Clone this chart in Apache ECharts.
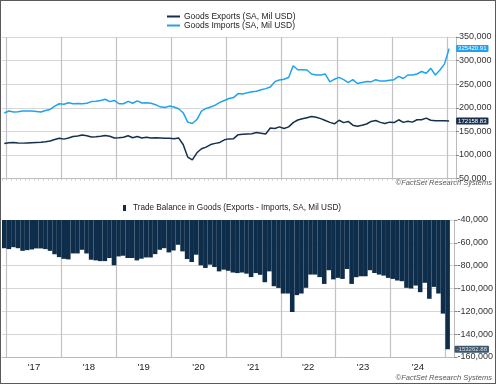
<!DOCTYPE html>
<html>
<head>
<meta charset="utf-8">
<script src="https://cdn.jsdelivr.net/npm/echarts@6/dist/echarts.min.js"></script>
<style>
  html, body { margin: 0; padding: 0; background: #fff; }
  #wrap { position: relative; width: 496px; height: 384px; }
  #chart { position: absolute; left: 0; top: 0; width: 496px; height: 384px; }
  #frame { position: absolute; left: 0; top: 0; width: 496px; height: 384px; box-sizing: border-box; border: 1px solid #5a5a5a; pointer-events: none; }
</style>
</head>
<body>
<div id="wrap"><div id="chart"></div><div id="frame"></div></div>
<script>
// Months: Dec 2016 .. Feb 2025 (last month has no data)
const startYear = 2016, startMonth = 12, monthCount = 99;
const categories = [];
for (let i = 0; i < monthCount; i++) {
  const m0 = startMonth - 1 + i;
  const y = startYear + Math.floor(m0 / 12);
  const m = (m0 % 12) + 1;
  categories.push(y + '-' + (m < 10 ? '0' + m : '' + m));
}

const exportsLabel = 'Goods Exports (SA, Mil USD)';
const importsLabel = 'Goods Imports (SA, Mil USD)';
const balanceLabel = 'Trade Balance in Goods (Exports - Imports, SA, Mil USD)';

// Dec 2016 .. Jan 2025
const goodsExports = [
  124000,
  126000,126500,125500,125000,125500,126000,126500,127000,128000,129500,132500,135500,
  133500,136000,139000,140000,142000,140500,138000,138500,139500,141000,139500,136000,
  136500,137500,140500,136500,139000,136000,137500,136000,136500,136000,135500,135500,
  134500,136000,122000,95500,89500,104500,113000,116500,122000,124500,126500,132000,
  134000,134500,143000,144000,144500,145000,147500,146000,144500,157000,156000,159500,
  156000,159500,168500,174000,176500,179000,181500,180000,177000,173000,169000,166000,
  173500,168500,171000,163000,161000,163000,165500,171000,173000,169000,166500,169500,
  168500,174500,169000,171500,169500,174500,174500,178000,173500,172500,172500,172500,
  172158.83
];
const goodsImports = [
  189000,
  193000,191000,191500,193000,193000,193000,192000,191000,194000,196500,203500,208500,
  207500,210500,208500,209000,208500,209500,213000,214000,215500,218000,213000,215500,
  208500,208500,213500,209500,214500,210000,210500,209500,206500,202000,200500,203500,
  201500,198000,189500,169500,166500,175000,193000,198500,201500,205500,211500,215500,
  219500,221500,230000,229000,232000,234000,235000,238000,240500,244000,255000,259000,
  260500,264000,289000,280500,280500,280000,271500,269500,269500,271500,255000,260500,
  264500,259500,253500,259500,251500,253500,255500,255000,259500,256500,256500,258500,
  259500,266500,262000,269500,269500,271500,277000,273000,283500,269500,280000,293000,
  325420.91
];
const tradeBalance = [
  -64700,
  -65500,-63800,-64700,-67000,-66400,-65800,-64900,-64900,-65500,-67000,-70000,-72500,
  -74000,-74500,-69300,-69300,-66100,-69300,-74800,-75400,-76000,-76000,-73300,-79700,
  -71900,-71300,-73300,-73300,-75400,-73900,-72800,-72800,-69900,-66100,-64700,-68400,
  -66700,-61700,-67500,-74200,-76800,-70400,-79700,-82000,-79100,-81200,-85000,-83500,
  -84500,-86000,-86500,-86000,-87000,-90000,-86500,-88000,-94500,-85000,-98000,-99500,
  -104400,-104400,-120600,-105800,-104400,-99400,-87800,-87800,-90000,-96000,-84000,-92000,
  -90700,-91600,-82900,-96000,-90100,-89300,-89300,-84000,-86400,-87800,-88700,-90700,
  -91600,-93000,-93600,-99400,-100000,-97400,-103200,-95000,-109000,-98600,-104400,-122000,
  -153262.88
];

const topTicks = { min: 50000, max: 350000, interval: 50000 };
const bottomTicks = { min: -160000, max: -40000, interval: 20000 };

const cNavy = '#0e2d4a';
const cExports = '#162f4c';
const cImports = '#1fa3ef';
const cGridV = '#bfc3c8';
const FONT = 'Liberation Sans, Arial, sans-serif';

// year-boundary split lines: band boundaries cycle every 12 months; boundary #1 is Jan 2017
const T = 'rgba(0,0,0,0)';
const yearLineColors = [T, cGridV, T, T, T, T, T, T, T, T, T, T];

const isJul = (i) => categories[i] && categories[i].slice(5) === '07';
const fmt = (v) => Number(v).toLocaleString('en-US');

const lastIdx = goodsExports.length - 1;

const chart = echarts.init(document.getElementById('chart'), null, { renderer: 'canvas' });
chart.setOption({
  animation: false,
  backgroundColor: '#fff',
  textStyle: { fontFamily: FONT },
  legend: [
    {
      data: [exportsLabel, importsLabel],
      orient: 'vertical', left: 167, top: 12, itemGap: 0, padding: 0,
      itemWidth: 13, itemHeight: 2, icon: 'rect',
      textStyle: { fontSize: 8.5, color: '#222', fontFamily: FONT, lineHeight: 9, padding: [0,0,0,-1] }
    },
    {
      data: [balanceLabel],
      left: 123, top: 204, padding: 0, itemWidth: 3, itemHeight: 6, icon: 'rect',
      textStyle: { fontSize: 8.2, color: '#222', fontFamily: FONT, padding: [0,0,0,2] }
    }
  ],
  grid: [
    { left: 2, right: 40, top: 37, height: 141.5 },
    { left: 2, right: 40, top: 220, height: 137 }
  ],
  xAxis: [
    {
      type: 'category', gridIndex: 0, data: categories, boundaryGap: true,
      axisLine: { show: true, lineStyle: { color: '#bbb' } },
      axisTick: { show: true, interval: 0, length: 2, lineStyle: { color: '#ccc' } },
      axisLabel: { show: false },
      splitLine: { show: true, interval: 0, lineStyle: { color: yearLineColors, width: 1.2 } }
    },
    {
      type: 'category', gridIndex: 1, data: categories, boundaryGap: true,
      axisLine: { show: true, lineStyle: { color: '#bbb' } },
      axisTick: { show: false },
      axisLabel: {
        show: true, interval: (i) => isJul(i),
        formatter: (v) => "'" + v.slice(2, 4),
        fontSize: 9.5, color: '#222', fontFamily: FONT, margin: 5, padding: [0, 4.6, 0, 0]
      },
      splitLine: { show: true, interval: 0, lineStyle: { color: yearLineColors, width: 1.2 } }
    }
  ],
  yAxis: [
    {
      type: 'value', gridIndex: 0, position: 'right',
      min: topTicks.min, max: topTicks.max, interval: topTicks.interval,
      axisLine: { show: true, lineStyle: { color: '#bbb' } },
      axisTick: { show: true, length: 3, lineStyle: { color: '#888' } },
      axisLabel: { formatter: fmt, fontSize: 9, color: '#333', fontFamily: FONT, margin: 3 },
      splitLine: { show: true, lineStyle: { color: '#d6d6d6' } }
    },
    {
      type: 'value', gridIndex: 1, position: 'right',
      min: bottomTicks.min, max: bottomTicks.max, interval: bottomTicks.interval,
      axisLine: { show: true, lineStyle: { color: '#bbb' } },
      axisTick: { show: true, length: 3, lineStyle: { color: '#888' } },
      axisLabel: { formatter: fmt, fontSize: 9, color: '#333', fontFamily: FONT, margin: 3 },
      splitLine: { show: true, lineStyle: { color: '#d6d6d6' } }
    }
  ],
  series: [
    {
      name: exportsLabel, type: 'line', xAxisIndex: 0, yAxisIndex: 0,
      data: goodsExports, showSymbol: false, symbol: 'none',
      lineStyle: { color: cExports, width: 1.5 }, itemStyle: { color: cExports },
      endLabel: {
        show: true, distance: 7,
        formatter: (p) => Number(p.value).toFixed(2),
        fontSize: 6, color: '#fff', backgroundColor: cExports, padding: [1, 2, 0, 2], borderRadius: 1
      }
    },
    {
      name: importsLabel, type: 'line', xAxisIndex: 0, yAxisIndex: 0,
      data: goodsImports, showSymbol: false, symbol: 'none',
      lineStyle: { color: cImports, width: 1.5 }, itemStyle: { color: cImports },
      endLabel: {
        show: true, distance: 7,
        formatter: (p) => Number(p.value).toFixed(2),
        fontSize: 6, color: '#fff', backgroundColor: cImports, padding: [1, 2, 0, 2], borderRadius: 1
      }
    },
    {
      name: balanceLabel, type: 'bar', xAxisIndex: 1, yAxisIndex: 1,
      data: tradeBalance, barCategoryGap: '0%', clip: true,
      itemStyle: { color: cNavy }
    },
    {
      type: 'scatter', xAxisIndex: 1, yAxisIndex: 1, symbolSize: 0,
      data: [[lastIdx, tradeBalance[lastIdx]]], silent: true,
      label: {
        show: true, position: 'right', distance: 7,
        formatter: (p) => Number(p.value[1]).toFixed(2),
        fontSize: 6, color: '#fff', backgroundColor: cNavy, padding: [1, 2, 0, 2], borderRadius: 1
      }
    }
  ],
  graphic: [
    { type: 'text', right: 4, top: 179, style: { text: '©FactSet Research Systems', font: 'italic 7.5px "Liberation Sans", Arial, sans-serif', fill: '#555' } },
    { type: 'text', right: 4, top: 374, style: { text: '©FactSet Research Systems', font: 'italic 7.5px "Liberation Sans", Arial, sans-serif', fill: '#555' } }
  ]
});
</script>
</body>
</html>
